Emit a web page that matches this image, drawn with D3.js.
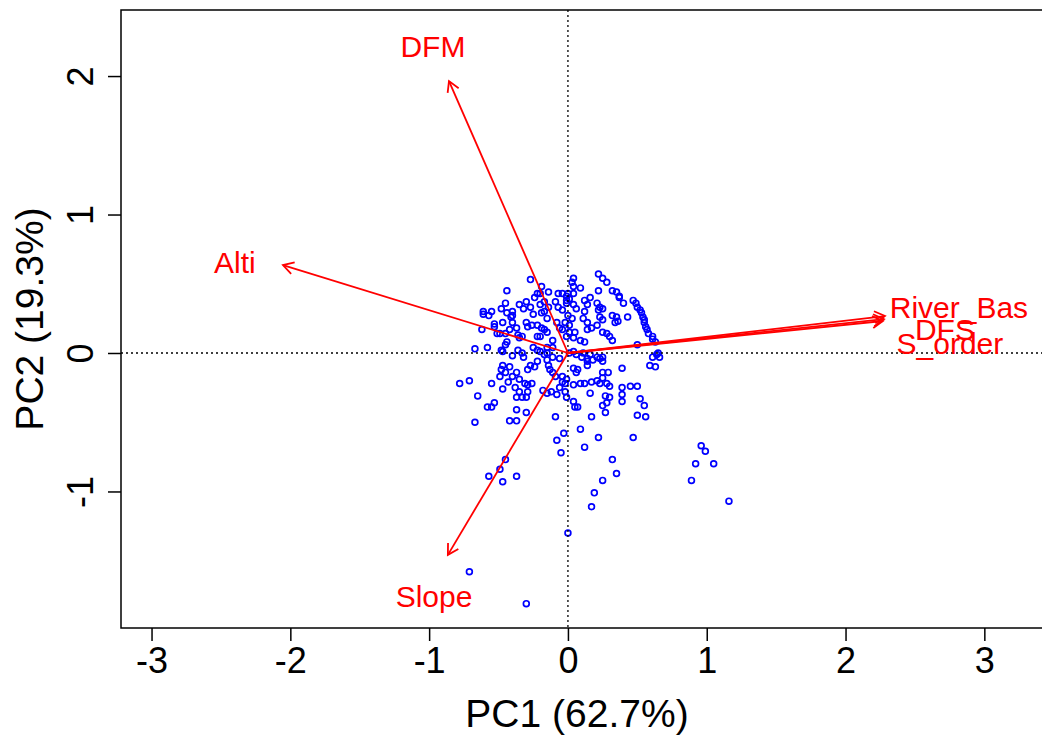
<!DOCTYPE html>
<html>
<head>
<meta charset="utf-8">
<script src="https://cdn.jsdelivr.net/npm/d3@7"></script>
<style>
  body { margin: 0; background: #fff; }
  svg { display: block; font-family: "Liberation Sans", Arial, Helvetica, sans-serif; }
</style>
</head>
<body>
<div id="canvas"></div>
<script>
// PCA biplot, PC1 vs PC2

var xTicks = [-3, -2, -1, 0, 1, 2, 3],
    xTickLabels = ['-3', '-2', '-1', '0', '1', '2', '3'],
    yTicks = [-1, 0, 1, 2],
    yTickLabels = ['-1', '0', '1', '2'];

var xTitle = 'PC1 (62.7%)',
    yTitle = 'PC2 (19.3%)';

// variable loadings (arrow tips) and where their labels sit
var varNames = ['DFM', 'Alti', 'Slope', 'River_Bas', 'DFS', 'S_order'];
var loadX = [-0.857, -2.053, -0.865, 2.284, 2.277, 2.270];
var loadY = [1.964, 0.635, -1.458, 0.267, 0.245, 0.231];
var labelX = [-0.973, -2.399, -0.965, 2.817, 2.716, 2.752];
var labelY = [2.217, 0.650, -1.762, 0.325, 0.173, 0.072];

// site scores
var scores = [
  [-0.27,0.53],[-0.44,0.45],[-0.19,0.48],[-0.22,0.43],[-0.14,0.44],[-0.07,0.43],
  [-0.61,0.30],[-0.61,0.28],[-0.55,0.30],[-0.57,0.27],[-0.48,0.32],[-0.45,0.36],
  [-0.40,0.30],[-0.40,0.27],[-0.44,0.29],[-0.35,0.35],[-0.30,0.37],[-0.27,0.33],
  [-0.32,0.32],[-0.24,0.40],[-0.20,0.43],[-0.17,0.37],[-0.14,0.33],[-0.20,0.35],
  [-0.09,0.37],[-0.07,0.33],[-0.04,0.31],[-0.01,0.38],[0.00,0.43],[-0.25,0.28],
  [-0.19,0.29],[-0.17,0.30],[-0.15,0.25],[-0.30,0.22],[-0.26,0.20],[-0.29,0.19],
  [-0.22,0.20],[-0.41,0.26],[-0.40,0.22],[-0.53,0.21],[-0.47,0.22],[-0.53,0.19],
  [-0.62,0.17],[-0.51,0.14],[-0.49,0.14],[-0.45,0.14],[-0.42,0.17],[-0.37,0.18],
  [-0.36,0.13],[-0.33,0.12],[-0.35,0.11],[-0.19,0.18],[-0.17,0.17],[-0.15,0.15],
  [-0.20,0.12],[-0.22,0.12],[-0.08,0.22],[-0.06,0.18],[-0.04,0.17],[-0.11,0.09],
  [-0.44,0.08],[-0.45,0.06],[-0.48,0.02],[-0.67,0.03],[-0.58,0.04],[-0.36,0.02],
  [-0.33,0.00],[-0.25,0.04],[-0.22,0.02],[-0.15,0.04],[-0.11,0.04],[-0.17,-0.01],
  [0.04,0.54],[0.03,0.51],[0.04,0.48],[0.09,0.47],[0.22,0.57],[0.25,0.54],
  [0.28,0.51],[0.22,0.45],[-0.04,0.43],[-0.01,0.41],[0.01,0.39],[0.04,0.43],
  [0.12,0.38],[0.16,0.40],[0.14,0.35],[-0.01,0.36],[0.04,0.35],[0.06,0.32],
  [0.21,0.36],[0.23,0.33],[0.25,0.32],[0.22,0.31],[0.32,0.45],[0.35,0.44],
  [0.37,0.41],[0.40,0.36],[0.37,0.40],[0.12,0.30],[0.11,0.25],[0.00,0.27],
  [0.03,0.25],[-0.02,0.22],[0.01,0.20],[0.23,0.26],[0.25,0.24],[0.21,0.20],
  [0.32,0.27],[0.35,0.26],[0.36,0.23],[0.34,0.22],[0.43,0.26],[0.14,0.22],
  [0.17,0.18],[0.14,0.17],[0.25,0.15],[0.28,0.14],[0.30,0.12],[0.32,0.09],
  [0.05,0.15],[0.01,0.15],[-0.01,0.12],[0.04,0.11],[0.09,0.09],[0.12,0.08],
  [0.47,0.38],[0.49,0.36],[0.50,0.33],[0.52,0.31],[0.53,0.29],[0.54,0.26],
  [0.55,0.24],[0.55,0.22],[0.56,0.19],[0.57,0.17],[0.58,0.14],[0.61,0.12],
  [0.61,0.10],[0.63,0.08],[0.50,0.06],[0.04,0.01],[0.11,0.00],[0.16,-0.01],
  [0.21,-0.03],[0.25,-0.03],[0.61,-0.03],[0.64,-0.01],[0.66,-0.03],
  [-0.47,0.01],[-0.40,-0.02],[-0.32,-0.03],[-0.20,0.01],[-0.15,0.00],[-0.11,-0.03],
  [-0.06,-0.04],[-0.78,-0.22],[-0.71,-0.20],[-0.65,-0.31],[-0.58,-0.39],[-0.55,-0.39],
  [-0.53,-0.36],[-0.67,-0.50],[-0.47,-0.09],[-0.48,-0.12],[-0.45,-0.14],[-0.42,-0.10],
  [-0.37,-0.14],[-0.27,-0.09],[-0.29,-0.12],[-0.22,-0.06],[-0.24,-0.10],[-0.15,-0.05],
  [-0.14,-0.09],[-0.13,-0.12],[-0.11,-0.14],[-0.09,-0.17],[-0.49,-0.17],[-0.43,-0.21],
  [-0.40,-0.17],[-0.35,-0.19],[-0.31,-0.22],[-0.29,-0.23],[-0.26,-0.22],[-0.55,-0.22],
  [-0.47,-0.26],[-0.38,-0.25],[-0.35,-0.28],[-0.29,-0.28],[-0.18,-0.27],[-0.15,-0.29],
  [-0.12,-0.28],[-0.08,-0.30],[-0.02,-0.28],[-0.02,-0.22],[-0.01,-0.19],[-0.04,-0.21],
  [-0.37,-0.32],[-0.33,-0.32],[-0.30,-0.32],[-0.37,-0.41],[-0.30,-0.43],[-0.42,-0.49],
  [-0.37,-0.49],[-0.09,-0.46],[-0.03,-0.58],[-0.08,-0.63],[-0.01,-0.32],
  [0.01,0.00],[0.06,-0.01],[0.10,-0.03],[0.14,-0.04],[0.23,-0.04],[0.25,-0.06],
  [0.18,-0.05],[0.14,-0.06],[0.04,-0.11],[0.07,-0.12],[0.06,-0.14],[0.14,-0.09],
  [0.39,-0.11],[0.65,0.00],[0.59,-0.09],[0.63,-0.10],[0.25,-0.14],[0.29,-0.14],
  [0.25,-0.18],[-0.04,-0.17],[-0.06,-0.25],[0.04,-0.23],[0.09,-0.22],[0.12,-0.22],
  [0.17,-0.21],[0.21,-0.20],[0.23,-0.22],[0.28,-0.22],[0.30,-0.24],[0.39,-0.25],
  [0.45,-0.24],[0.50,-0.24],[0.16,-0.29],[0.39,-0.30],[0.39,-0.35],[0.27,-0.31],
  [0.30,-0.32],[0.28,-0.36],[0.25,-0.38],[0.04,-0.35],[0.05,-0.39],[0.07,-0.39],
  [0.52,-0.33],[0.55,-0.38],[0.27,-0.43],[0.50,-0.45],[0.56,-0.46],[0.17,-0.46],
  [0.09,-0.55],[0.22,-0.61],[0.47,-0.61],[0.12,-0.68],
  [-0.05,-0.72],[-0.45,-0.77],[-0.49,-0.84],[-0.57,-0.89],[-0.47,-0.93],[-0.37,-0.89],
  [0.00,-1.30],[0.32,-0.77],[0.35,-0.87],[0.25,-0.92],[0.19,-1.01],[0.17,-1.11],
  [0.96,-0.67],[0.99,-0.71],[0.92,-0.80],[1.05,-0.80],[0.89,-0.92],[1.16,-1.07],
  [-0.71,-1.58],[-0.30,-1.81]
];

var W = 1042, H = 735;
var m = {t:10, l:121, b:107};

var svg = d3.select('#canvas')
    .append('svg')
    .attr('width', W)
    .attr('height', H);

var x = d3.scaleLinear().domain([-3.22, 3.5]).range([m.l, m.l + 6.72 * 138.8]);
var y = d3.scaleLinear().domain([-1.986, 2.477]).range([H - m.b, m.t]);

// points
svg.append('g').selectAll('circle')
    .data(scores)
    .enter()
    .append('circle')
    .attr('cx', function(d){ return x(d[0]); })
    .attr('cy', function(d){ return y(d[1]); })
    .attr('r', 2.9)
    .style('fill', 'none')
    .style('stroke', '#0000ff')
    .style('stroke-width', 1.7);

// dotted reference lines through origin
svg.append('line')
    .attr('x1', x(0)).attr('x2', x(0))
    .attr('y1', y.range()[1]).attr('y2', y.range()[0])
    .style('stroke', '#000').style('stroke-width', 1.3)
    .style('stroke-dasharray', '2,3');
svg.append('line')
    .attr('x1', x.range()[0]).attr('x2', W)
    .attr('y1', y(0)).attr('y2', y(0))
    .style('stroke', '#000').style('stroke-width', 1.3)
    .style('stroke-dasharray', '2,3');

// loading arrows
var vars = varNames.map(function(n, i){
    return {name:n, x:loadX[i], y:loadY[i], lx:labelX[i], ly:labelY[i]};
});

var arrows = svg.append('g').attr('class', 'arrows');
arrows.selectAll('line')
    .data(vars)
    .enter()
    .append('line')
    .attr('x1', x(0)).attr('y1', y(0))
    .attr('x2', function(d){ return x(d.x); })
    .attr('y2', function(d){ return y(d.y); })
    .style('stroke', '#ff0000')
    .style('stroke-width', 1.8);

arrows.selectAll('path')
    .data(vars)
    .enter()
    .append('path')
    .attr('d', function(d){
        var x1 = x(d.x), y1 = y(d.y);
        var ang = Math.atan2(y1 - y(0), x1 - x(0));
        var len = 12, spread = Math.PI / 6;
        var a1 = ang + Math.PI - spread, a2 = ang + Math.PI + spread;
        return 'M' + (x1 + len * Math.cos(a1)) + ',' + (y1 + len * Math.sin(a1)) +
               'L' + x1 + ',' + y1 +
               'L' + (x1 + len * Math.cos(a2)) + ',' + (y1 + len * Math.sin(a2));
    })
    .style('fill', 'none')
    .style('stroke', '#ff0000')
    .style('stroke-width', 1.8);

arrows.selectAll('text')
    .data(vars)
    .enter()
    .append('text')
    .attr('x', function(d){ return x(d.lx); })
    .attr('y', function(d){ return y(d.ly); })
    .attr('dy', '0.35em')
    .attr('text-anchor', 'middle')
    .style('font-size', '30px')
    .style('fill', '#ff0000')
    .text(function(d){ return d.name; });

// plot box (right side runs past the picture)
svg.append('rect')
    .attr('x', x.range()[0]).attr('y', y.range()[1])
    .attr('width', x.range()[1] - x.range()[0])
    .attr('height', y.range()[0] - y.range()[1])
    .style('fill', 'none')
    .style('stroke', '#000')
    .style('stroke-width', 1.5);

// axes
var xAxis = svg.append('g')
    .attr('transform', 'translate(0,' + y.range()[0] + ')')
    .call(d3.axisBottom(x).tickValues(xTicks)
        .tickFormat(function(d, i){ return xTickLabels[i]; })
        .tickSize(13).tickSizeOuter(0));
xAxis.select('.domain').remove();
xAxis.selectAll('line').style('stroke-width', 1.5);
xAxis.selectAll('text')
    .attr('y', 45).attr('dy', 0)
    .style('font-size', '36px')
    .style('font-family', '"Liberation Sans", Arial, sans-serif')
    .style('fill', '#000');

var yAxis = svg.append('g')
    .attr('transform', 'translate(' + x.range()[0] + ',0)')
    .call(d3.axisLeft(y).tickValues(yTicks)
        .tickFormat(function(d, i){ return yTickLabels[i]; })
        .tickSize(13).tickSizeOuter(0));
yAxis.select('.domain').remove();
yAxis.selectAll('line').style('stroke-width', 1.5);
yAxis.selectAll('text')
    .attr('x', 0).attr('y', -28).attr('dy', 0)
    .attr('text-anchor', 'middle')
    .attr('transform', 'rotate(-90)')
    .style('font-size', '36px')
    .style('font-family', '"Liberation Sans", Arial, sans-serif')
    .style('fill', '#000');

// axis titles
svg.append('text')
    .attr('x', 577).attr('y', 727)
    .attr('text-anchor', 'middle')
    .style('font-size', '39px')
    .text(xTitle);

svg.append('text')
    .attr('transform', 'translate(43,' + ((y.range()[0] + y.range()[1]) / 2) + ') rotate(-90)')
    .attr('text-anchor', 'middle')
    .style('font-size', '39px')
    .text(yTitle);
</script>
</body>
</html>
